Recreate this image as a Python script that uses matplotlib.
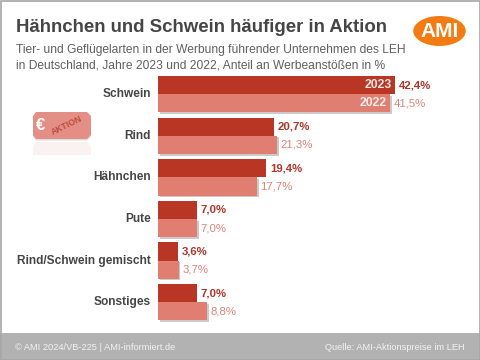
import matplotlib
matplotlib.use("Agg")
import matplotlib.patheffects as pe
import matplotlib.pyplot as plt
from matplotlib.patches import Ellipse, Polygon, Rectangle

plt.rcParams["font.family"] = ["Liberation Sans", "DejaVu Sans"]

categories = ["Schwein", "Rind", "Hähnchen", "Pute", "Rind/Schwein gemischt", "Sonstiges"]
values_2023 = [42.4, 20.7, 19.4, 7.0, 3.6, 7.0]
values_2022 = [41.5, 21.3, 17.7, 7.0, 3.7, 8.8]
labels_2023 = ["42,4%", "20,7%", "19,4%", "7,0%", "3,6%", "7,0%"]
labels_2022 = ["41,5%", "21,3%", "17,7%", "7,0%", "3,7%", "8,8%"]

DARK = "#B93524"
LIGHT = "#E17E72"
TEXT = "#454545"
W, H = 480, 360

fig = plt.figure(figsize=(W / 100, H / 100), dpi=100, facecolor="white")

# page furniture, in pixel coordinates
bg = fig.add_axes([0, 0, 1, 1])
bg.set_xlim(0, W)
bg.set_ylim(H, 0)
bg.axis("off")
bg.add_patch(Rectangle((0, 333), W, 27, color="#B2B2B2", lw=0))
bg.add_patch(Rectangle((0.5, 0.5), W - 1, H - 1, fill=False, ec="#A6A6A6", lw=1.2))

bg.text(15.5, 27, "Hähnchen und Schwein häufiger in Aktion", fontsize=13.4,
        fontweight="bold", color=TEXT, va="center", ha="left")
bg.text(15.5, 49.5, "Tier- und Geflügelarten in der Werbung führender Unternehmen des LEH",
        fontsize=8.65, color="#5F5F5F", va="center", ha="left")
bg.text(15.5, 65, "in Deutschland, Jahre 2023 und 2022, Anteil an Werbeanstößen in %",
        fontsize=8.65, color="#5F5F5F", va="center", ha="left")
bg.text(15, 348, "© AMI 2024/VB-225 | AMI-informiert.de", fontsize=6.7,
        color="#F2F2F2", va="center", ha="left")
bg.text(464.5, 348, "Quelle: AMI-Aktionspreise im LEH", fontsize=6.7,
        color="#F2F2F2", va="center", ha="right")

# AMI logo
bg.add_patch(Ellipse((439.5, 31), 52.5, 30, color="#F47B12", lw=0))
bg.text(439.5, 31.5, "AMI", fontsize=15, fontweight="bold", color="white",
        va="center", ha="center")

# coupon icon and its faint reflection
ticket = [(36, 112), (87, 112), (91, 116), (91, 135), (87, 139), (36, 139), (33, 135), (33, 116)]
reflection = [(36, 142), (87, 142), (91, 146), (91, 155), (33, 155), (33, 146)]
bg.add_patch(Polygon(reflection, color="#F9F2F1", lw=0))
bg.add_patch(Polygon([(x, y + 1.5) for x, y in ticket], color="#DCDCDC", lw=0))
bg.add_patch(Polygon(ticket, color="#E38F85", lw=0))
bg.text(40.5, 125.5, "€", fontsize=12, fontweight="bold", color="white", va="center", ha="center")
bg.text(66.5, 125.5, "AKTION", fontsize=6.2, fontweight="bold", color="#BC4A3E", rotation=26,
        va="center", ha="center")

# bars, on a percent scale with one row per category
px_per_pct = 5.59
row_px = 41.6
ax = fig.add_axes([158 / W, 1 - (76 + 6 * row_px) / H, 300 / W, 6 * row_px / H])
ax.set_xlim(0, 300 / px_per_pct)
ax.set_ylim(5.5, -0.5)
ax.axis("off")

bar_h = 18.2 / row_px
shadow = [pe.SimplePatchShadow(offset=(1.2, -1.2), shadow_rgbFace="#A8A8A8", alpha=0.6), pe.Normal()]
for i, cat in enumerate(categories):
    top = i - 0.5
    ax.barh(top + bar_h, values_2022[i], height=bar_h, align="edge", color=LIGHT, lw=0,
            path_effects=shadow, zorder=2)
    ax.barh(top, values_2023[i], height=bar_h, align="edge", color=DARK, lw=0, zorder=3)
    ax.text(-7.0 / px_per_pct, top + bar_h, cat, fontsize=8.6, fontweight="bold", color=TEXT,
            va="center", ha="right", clip_on=False)
    ax.text(values_2023[i] + 0.65, top + bar_h / 2, labels_2023[i], fontsize=8.2, fontweight="bold",
            color="#AD3628", va="center", ha="left")
    ax.text(values_2022[i] + 0.65, top + bar_h * 1.5, labels_2022[i], fontsize=8.2,
            color="#E08277", va="center", ha="left")

ax.text(values_2023[0] - 0.65, -0.5 + bar_h / 2, "2023", fontsize=8.8, fontweight="bold",
        color="#F8E8E4", va="center", ha="right", zorder=5)
ax.text(values_2022[0] - 0.65, -0.5 + bar_h * 1.5, "2022", fontsize=8.8, fontweight="bold",
        color="#FBEDEA", va="center", ha="right", zorder=5)

fig.savefig("out.png", dpi=100)
